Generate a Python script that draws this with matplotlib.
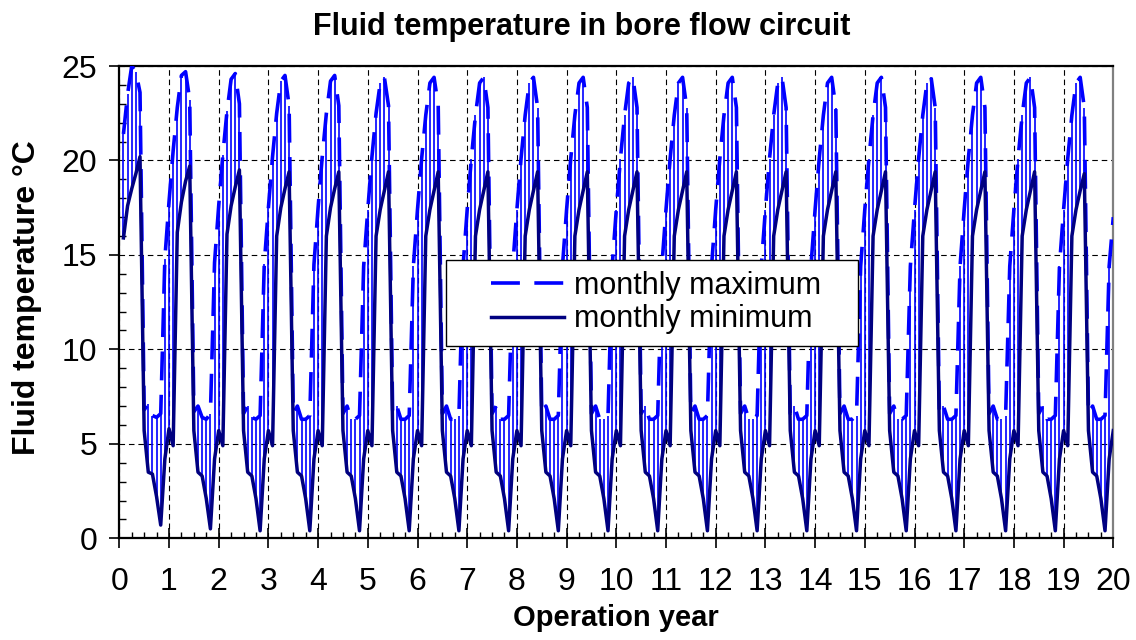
import numpy as np
import matplotlib
matplotlib.use("Agg")
import matplotlib.pyplot as plt
from matplotlib.ticker import MultipleLocator
from matplotlib.patches import Rectangle

plt.rcParams['font.family'] = ['Liberation Sans', 'DejaVu Sans']

# Monthly maximum fluid temperature (°C), one row per operation year, months 1..12
max_y00 = [21.4, 23.5, 25.0, 24.7, 23.6, 6.8, 7.1, 6.5, 6.4, 6.6, 14.8, 17.8]
max_y01 = [20.5, 22.8, 24.5, 24.7, 23.2, 6.7, 7.0, 6.4, 6.3, 6.6, 14.6, 17.6]
max_y02 = [20.3, 22.6, 24.3, 24.6, 23.0, 6.6, 7.0, 6.4, 6.3, 6.5, 14.5, 17.5]
max_y03 = [20.2, 22.5, 24.2, 24.5, 22.9, 6.6, 7.0, 6.3, 6.3, 6.5, 14.5, 17.5]
max_y04 = [20.2, 22.5, 24.2, 24.5, 22.9, 6.6, 7.0, 6.3, 6.3, 6.5, 14.4, 17.4]
max_y05 = [20.2, 22.5, 24.1, 24.4, 22.9, 6.6, 7.0, 6.3, 6.3, 6.5, 14.4, 17.4]
max_y06 = [20.1, 22.4, 24.1, 24.4, 22.9, 6.6, 7.0, 6.3, 6.3, 6.5, 14.4, 17.4]
max_y07 = [20.1, 22.4, 24.1, 24.4, 22.8, 6.6, 7.0, 6.3, 6.3, 6.5, 14.4, 17.4]
max_y08 = [20.1, 22.4, 24.1, 24.4, 22.8, 6.6, 7.0, 6.3, 6.3, 6.5, 14.4, 17.4]
max_y09 = [20.1, 22.4, 24.1, 24.4, 22.8, 6.6, 7.0, 6.3, 6.3, 6.5, 14.4, 17.4]
max_y10 = [20.1, 22.4, 24.1, 24.4, 22.8, 6.6, 7.0, 6.3, 6.3, 6.5, 14.4, 17.4]
max_y11 = [20.1, 22.4, 24.1, 24.4, 22.8, 6.6, 7.0, 6.3, 6.3, 6.5, 14.4, 17.4]
max_y12 = [20.1, 22.4, 24.1, 24.4, 22.8, 6.6, 7.0, 6.3, 6.3, 6.5, 14.4, 17.4]
max_y13 = [20.1, 22.4, 24.1, 24.4, 22.8, 6.6, 7.0, 6.3, 6.3, 6.5, 14.4, 17.4]
max_y14 = [20.1, 22.4, 24.1, 24.4, 22.8, 6.6, 7.0, 6.3, 6.3, 6.5, 14.4, 17.4]
max_y15 = [20.1, 22.4, 24.1, 24.4, 22.8, 6.6, 7.0, 6.3, 6.3, 6.5, 14.4, 17.4]
max_y16 = [20.1, 22.4, 24.1, 24.4, 22.8, 6.6, 7.0, 6.3, 6.3, 6.5, 14.4, 17.4]
max_y17 = [20.1, 22.4, 24.1, 24.4, 22.8, 6.6, 7.0, 6.3, 6.3, 6.5, 14.4, 17.4]
max_y18 = [20.1, 22.4, 24.1, 24.4, 22.8, 6.6, 7.0, 6.3, 6.3, 6.5, 14.4, 17.4]
max_y19 = [20.1, 22.4, 24.1, 24.4, 22.8, 6.6, 7.0, 6.3, 6.3, 6.5, 14.4, 17.0]

# Monthly minimum fluid temperature (°C)
min_y00 = [15.9, 17.6, 18.5, 19.3, 20.2, 5.7, 3.5, 3.4, 2.2, 0.7, 4.2, 5.8]
min_y01 = [4.9, 16.2, 17.8, 18.9, 19.7, 5.7, 3.5, 3.3, 2.1, 0.5, 4.2, 5.7]
min_y02 = [4.9, 16.1, 17.6, 18.6, 19.5, 5.7, 3.5, 3.3, 2.1, 0.4, 4.2, 5.7]
min_y03 = [4.9, 16.0, 17.5, 18.5, 19.4, 5.7, 3.5, 3.3, 2.1, 0.4, 4.2, 5.7]
min_y04 = [4.9, 16.0, 17.5, 18.5, 19.4, 5.7, 3.5, 3.3, 2.1, 0.4, 4.2, 5.7]
min_y05 = [4.9, 16.0, 17.4, 18.4, 19.4, 5.7, 3.5, 3.3, 2.1, 0.4, 4.2, 5.7]
min_y06 = [4.9, 16.0, 17.4, 18.4, 19.4, 5.7, 3.5, 3.3, 2.1, 0.4, 4.2, 5.7]
min_y07 = [4.9, 16.0, 17.4, 18.4, 19.4, 5.7, 3.5, 3.3, 2.1, 0.4, 4.2, 5.7]
min_y08 = [4.9, 16.0, 17.4, 18.4, 19.4, 5.7, 3.5, 3.3, 2.1, 0.4, 4.2, 5.7]
min_y09 = [4.9, 16.0, 17.4, 18.4, 19.4, 5.7, 3.5, 3.3, 2.1, 0.4, 4.2, 5.7]
min_y10 = [4.9, 16.0, 17.4, 18.4, 19.4, 5.7, 3.5, 3.3, 2.1, 0.4, 4.2, 5.7]
min_y11 = [4.9, 16.0, 17.4, 18.4, 19.4, 5.7, 3.5, 3.3, 2.1, 0.4, 4.2, 5.7]
min_y12 = [4.9, 16.0, 17.4, 18.4, 19.4, 5.7, 3.5, 3.3, 2.1, 0.4, 4.2, 5.7]
min_y13 = [4.9, 16.0, 17.4, 18.4, 19.4, 5.7, 3.5, 3.3, 2.1, 0.4, 4.2, 5.7]
min_y14 = [4.9, 16.0, 17.4, 18.4, 19.4, 5.7, 3.5, 3.3, 2.1, 0.4, 4.2, 5.7]
min_y15 = [4.9, 16.0, 17.4, 18.4, 19.4, 5.7, 3.5, 3.3, 2.1, 0.4, 4.2, 5.7]
min_y16 = [4.9, 16.0, 17.4, 18.4, 19.4, 5.7, 3.5, 3.3, 2.1, 0.4, 4.2, 5.7]
min_y17 = [4.9, 16.0, 17.4, 18.4, 19.4, 5.7, 3.5, 3.3, 2.1, 0.4, 4.2, 5.7]
min_y18 = [4.9, 16.0, 17.4, 18.4, 19.4, 5.7, 3.5, 3.3, 2.1, 0.4, 4.2, 5.7]
min_y19 = [4.9, 16.0, 17.4, 18.4, 19.3, 5.7, 3.5, 3.3, 2.1, 0.4, 4.2, 5.7]

monthly_max = np.concatenate([max_y00, max_y01, max_y02, max_y03, max_y04, max_y05,
                              max_y06, max_y07, max_y08, max_y09, max_y10, max_y11,
                              max_y12, max_y13, max_y14, max_y15, max_y16, max_y17,
                              max_y18, max_y19])
monthly_min = np.concatenate([min_y00, min_y01, min_y02, min_y03, min_y04, min_y05,
                              min_y06, min_y07, min_y08, min_y09, min_y10, min_y11,
                              min_y12, min_y13, min_y14, min_y15, min_y16, min_y17,
                              min_y18, min_y19])
month_index = np.arange(1, len(monthly_max) + 1)
years = month_index / 12.0

title = "Fluid temperature in bore flow circuit"
xlabel = "Operation year"
ylabel = "Fluid temperature °C"
labels = ["monthly maximum", "monthly minimum"]

W, H = 1136, 640
fig = plt.figure(figsize=(W / 100, H / 100), dpi=100)
ax = fig.add_axes([119.3 / W, (H - 538.3) / H, 994 / W, 472.3 / H])

ax.vlines(years, monthly_min, monthly_max, colors="#0000FF", linewidth=1.2, zorder=2)
ax.plot(years, monthly_max, color="#0000FF", linewidth=2.6, dashes=(8.0, 4.0),
        label=labels[0], zorder=3)
ax.plot(years, monthly_min, color="#000080", linewidth=2.5, label=labels[1], zorder=4)

ax.set_xlim(0, 20)
ax.set_ylim(0, 25)
ax.xaxis.set_major_locator(MultipleLocator(1))
ax.xaxis.set_minor_locator(MultipleLocator(0.25))
ax.yaxis.set_major_locator(MultipleLocator(5))
ax.yaxis.set_minor_locator(MultipleLocator(1))

ax.grid(True, which="major", color="black", linestyle=(0, (5, 3.5)), linewidth=0.8, zorder=1)
ax.set_axisbelow(True)

ax.tick_params(axis="x", which="major", direction="inout", length=14, width=1.2,
               labelsize=23, pad=14)
ax.tick_params(axis="x", which="minor", direction="in", length=4.5, width=1.0)
ax.tick_params(axis="y", which="major", direction="out", length=7, width=1.2,
               labelsize=23, pad=9)
ax.tick_params(axis="y", which="minor", direction="in", length=5, width=1.0)

for side in ["left", "bottom", "top"]:
    ax.spines[side].set_color("black")
    ax.spines[side].set_linewidth(1.6)
ax.spines["right"].set_color("#808080")
ax.spines["right"].set_linewidth(1.6)

fig.text(582 / W, 1 - 27 / H, title, fontsize=22, fontweight="bold",
         ha="center", va="center")
fig.text(616 / W, 1 - 626 / H, xlabel, fontsize=21, fontweight="bold",
         ha="center", va="baseline")
fig.text(27 / W, 1 - 298 / H, ylabel, fontsize=23, fontweight="bold",
         ha="center", va="center", rotation=90)

# legend box
box = Rectangle(((445.7 - 119.3) / 994, (538.3 - 345.7) / 472.3),
                (857.7 - 445.7) / 994, (345.7 - 260.0) / 472.3,
                transform=ax.transAxes, facecolor="white", edgecolor="black",
                linewidth=1.0, zorder=9)
ax.add_patch(box)
leg = ax.legend(loc="center left", bbox_to_anchor=((491 - 119.3) / 994, (538.3 - 302.5) / 472.3),
                fontsize=22, frameon=False, handlelength=2.4, borderpad=0.0,
                labelspacing=0.12, handletextpad=0.33, borderaxespad=0.0)
leg.set_zorder(10)

fig.savefig("out.png", dpi=100)
